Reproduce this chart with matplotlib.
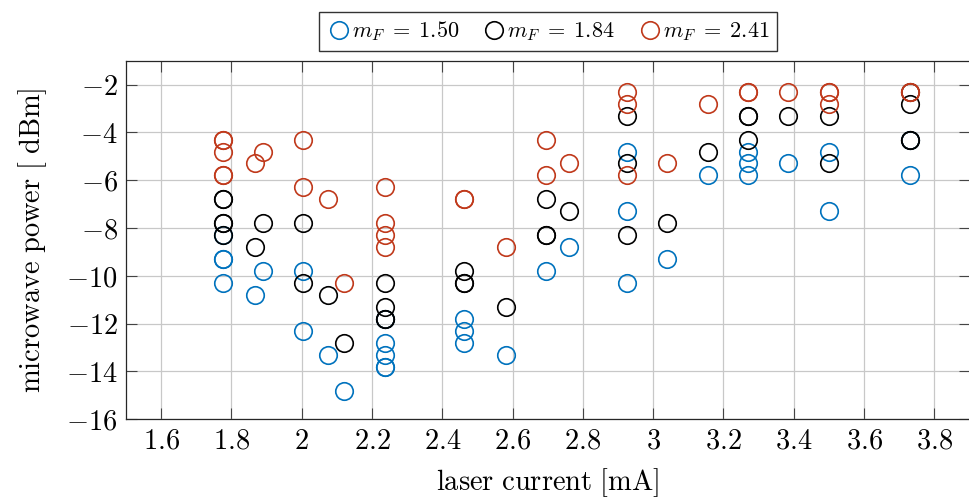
import matplotlib
matplotlib.use("Agg")
import matplotlib.pyplot as plt

plt.rcParams['mathtext.fontset'] = 'cm'
plt.rcParams['font.family'] = 'serif'
plt.rcParams['font.serif'] = ['DejaVu Serif']

# laser current [mA] and microwave power [dBm] per series
x_150 = [1.776, 1.776, 1.776, 1.776, 1.866, 1.889, 2.003, 2.003, 2.074, 2.119,
         2.236, 2.236, 2.236, 2.236, 2.236, 2.463, 2.463, 2.463, 2.582, 2.696,
         2.761, 2.926, 2.926, 2.926, 3.040, 3.156, 3.270, 3.270, 3.270, 3.384,
         3.500, 3.500, 3.731, 3.731]
y_150 = [-9.3, -9.3, -10.3, -8.3, -10.8, -9.8, -9.8, -12.3, -13.3, -14.8,
         -11.8, -12.8, -13.3, -13.8, -13.8, -11.8, -12.3, -12.8, -13.3, -9.8,
         -8.8, -4.8, -7.3, -10.3, -9.3, -5.8, -4.8, -5.3, -5.8, -5.3,
         -4.8, -7.3, -5.8, -4.3]

x_184 = [1.776, 1.776, 1.776, 1.776, 1.776, 1.866, 1.889, 2.003, 2.003, 2.074,
         2.119, 2.236, 2.236, 2.236, 2.236, 2.463, 2.463, 2.463, 2.582, 2.696,
         2.696, 2.696, 2.761, 2.926, 2.926, 2.926, 3.040, 3.156, 3.270, 3.270,
         3.270, 3.384, 3.500, 3.500, 3.731, 3.731, 3.731, 3.731]
y_184 = [-6.8, -6.8, -7.8, -7.8, -8.3, -8.8, -7.8, -7.8, -10.3, -10.8,
         -12.8, -10.3, -11.3, -11.8, -11.8, -9.8, -10.3, -10.3, -11.3, -6.8,
         -8.3, -8.3, -7.3, -3.3, -5.3, -8.3, -7.8, -4.8, -3.3, -3.3,
         -4.3, -3.3, -3.3, -5.3, -2.3, -2.8, -4.3, -4.3]

x_241 = [1.776, 1.776, 1.776, 1.776, 1.776, 1.866, 1.889, 2.003, 2.003, 2.074,
         2.119, 2.236, 2.236, 2.236, 2.236, 2.463, 2.463, 2.582, 2.696, 2.696,
         2.761, 2.926, 2.926, 2.926, 3.040, 3.156, 3.270, 3.270, 3.384, 3.500,
         3.500, 3.500, 3.731, 3.731]
y_241 = [-4.3, -4.3, -4.8, -5.8, -5.8, -5.3, -4.8, -4.3, -6.3, -6.8,
         -10.3, -6.3, -7.8, -8.3, -8.8, -6.8, -6.8, -8.8, -4.3, -5.8,
         -5.3, -2.3, -2.8, -5.8, -5.3, -2.8, -2.3, -2.3, -2.3, -2.3,
         -2.3, -2.8, -2.3, -2.3]

labels = [r'$m_F\;=\;1.50$', r'$m_F\;=\;1.84$', r'$m_F\;=\;2.41$']
colors = ['#0072BD', '#000000', '#C0391B']

xticks = [1.6, 1.8, 2.0, 2.2, 2.4, 2.6, 2.8, 3.0, 3.2, 3.4, 3.6, 3.8]
xticklabels = ['$1.6$', '$1.8$', '$2$', '$2.2$', '$2.4$', '$2.6$', '$2.8$', '$3$',
               '$3.2$', '$3.4$', '$3.6$', '$3.8$']
yticks = [-16, -14, -12, -10, -8, -6, -4, -2]
yticklabels = ['$-16$', '$-14$', '$-12$', '$-10$', '$-8$', '$-6$', '$-4$', '$-2$']

fig = plt.figure(figsize=(9.70, 4.99), dpi=100)
ax = fig.add_axes([0.1299, 0.1597, 0.8696, 0.7187])

series = [(x_150, y_150), (x_184, y_184), (x_241, y_241)]
for (xs, ys), lab, c in zip(series, labels, colors):
    ax.plot(xs, ys, linestyle='none', marker='o', markersize=12.6,
            markerfacecolor='none', markeredgecolor=c, markeredgewidth=1.2,
            label=lab, zorder=3)

ax.set_xlim(1.5, 3.9)
ax.set_ylim(-16, -1)
ax.set_xticks(xticks)
ax.set_xticklabels(xticklabels)
ax.set_yticks(yticks)
ax.set_yticklabels(yticklabels)
ax.grid(True, color='#c8c8c8', linewidth=0.9)
ax.set_axisbelow(True)
ax.tick_params(direction='in', length=8, width=0.8, color='#444444',
               labelsize=20.5, top=True, right=True, pad=6)
for s in ax.spines.values():
    s.set_color('#262626')
    s.set_linewidth(0.9)

ax.set_xlabel(r'$\mathrm{laser\ current\ [mA]}$', fontsize=20.5, labelpad=8)
ax.set_ylabel(r'$\mathrm{microwave\ power\ [\ dBm]}$', fontsize=20.5, labelpad=12)

leg = ax.legend(loc='lower center', bbox_to_anchor=(0.5, 1.015), ncol=3,
                fontsize=16, frameon=True, fancybox=False, edgecolor='black',
                handletextpad=0.0, columnspacing=1.0, borderpad=0.35,
                handlelength=1.15, borderaxespad=0.2)
leg.get_frame().set_linewidth(1.0)

fig.savefig('out.png', dpi=100)
